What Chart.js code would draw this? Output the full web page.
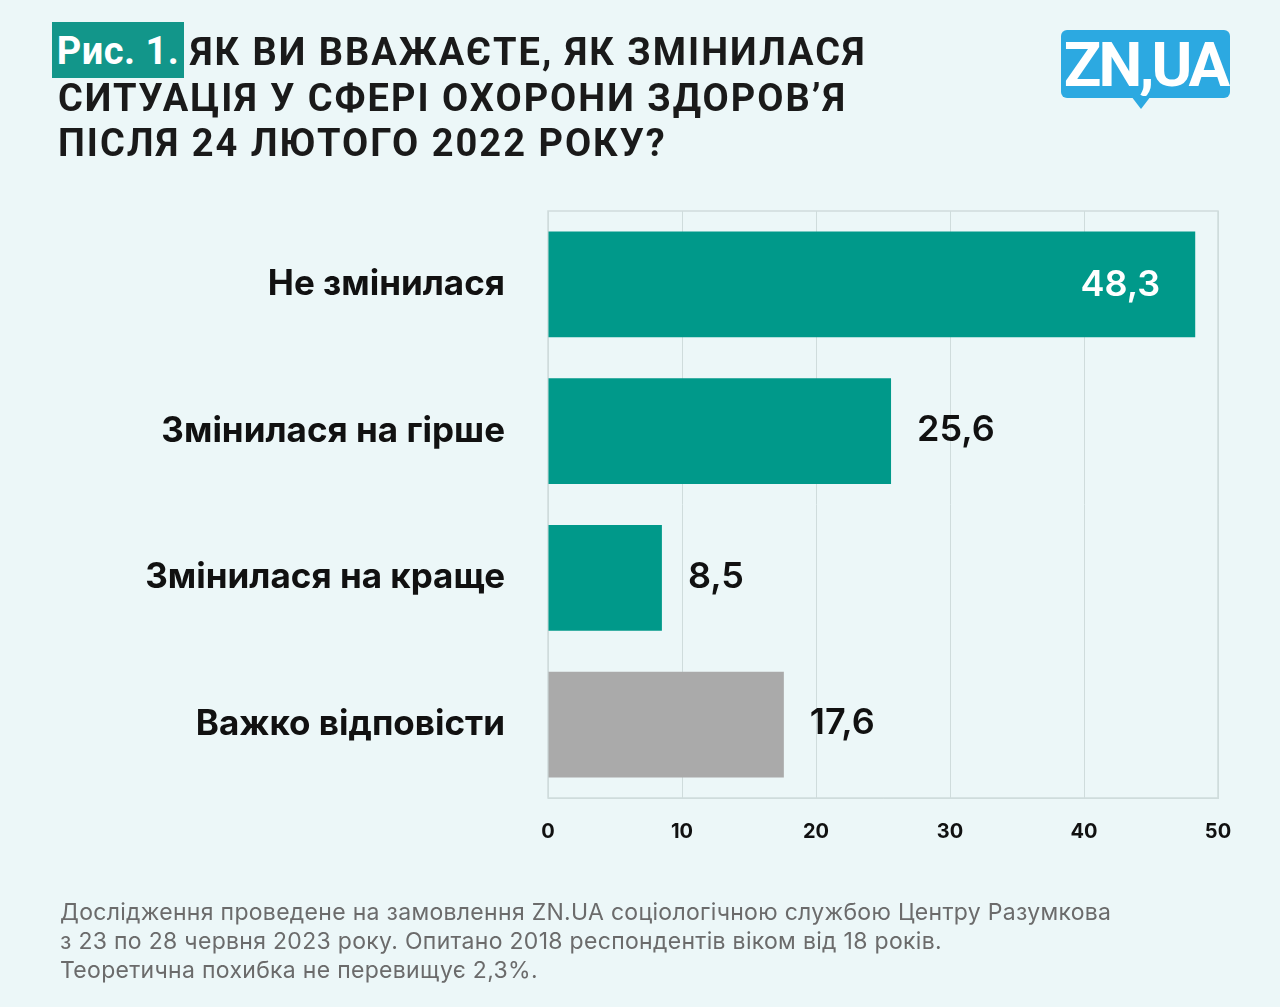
<!DOCTYPE html>
<html lang="uk">
<head>
<meta charset="utf-8">
<title>Рис. 1</title>
<script src="https://cdn.jsdelivr.net/npm/chart.js@4.4.1/dist/chart.umd.min.js"></script>
<style>
  html, body { margin: 0; padding: 0; }
  body { width: 1280px; height: 1007px; background: #ecf7f8; position: relative; overflow: hidden; }
  #chartWrap { position: absolute; left: 0; top: 0; width: 1280px; height: 1007px; }
  .t { position: absolute; font-family: Roboto, sans-serif; font-weight: 700; font-size: 38px; line-height: 46px;
    color: #1a1a1a; letter-spacing: 2px; white-space: nowrap; }
  .fig { position: absolute; left: 52px; top: 22px; width: 132px; height: 56px; background: #12968a; color: #fff;
    font-family: Roboto, sans-serif; font-weight: 700; font-size: 38px; line-height: 58px; text-align: center;
    letter-spacing: 0.5px; white-space: nowrap; }
  .logo { position: absolute; left: 1061px; top: 30px; width: 169px; height: 68px; background: #2ca9e1;
    border-radius: 6px; color: #fff; font-family: Roboto, sans-serif; font-weight: 700; font-size: 62px;
    line-height: 70px; text-align: center; letter-spacing: -3px; }
  .logo:after { content: ""; position: absolute; left: 70px; top: 66px; border-left: 10px solid transparent;
    border-right: 10px solid transparent; border-top: 13px solid #2ca9e1; }
  .footer { position: absolute; left: 60px; top: 898px; font-family: Inter, sans-serif; font-size: 23px;
    letter-spacing: 0.3px; line-height: 29px; color: #6b6b6b; white-space: nowrap; }
</style>
</head>
<body>
<div id="chartWrap"><canvas id="grafico"></canvas></div>
<div class="fig">Рис. 1.</div>
<div class="t" style="left:190px; top:29px;">ЯК ВИ ВВАЖАЄТЕ, ЯК ЗМІНИЛАСЯ</div>
<div class="t" style="left:58px; top:75px;">СИТУАЦІЯ У СФЕРІ ОХОРОНИ ЗДОРОВ’Я</div>
<div class="t" style="left:58px; top:120px;">ПІСЛЯ 24 ЛЮТОГО 2022 РОКУ?</div>
<div class="logo">ZN,UA</div>
<div class="footer">Дослідження проведене на замовлення ZN.UA соціологічною службою Центру Разумкова<br>з 23 по 28 червня 2023 року. Опитано 2018 респондентів віком від 18 років.<br>Теоретична похибка не перевищує 2,3%.</div>

<script>
const categorias = ["Не змінилася", "Змінилася на гірше", "Змінилася на краще", "Важко відповісти"];
const valores = [48.3, 25.6, 8.5, 17.6];
const cores = ["#00998a", "#00998a", "#00998a", "#aaaaaa"];
const ticksX = [0, 10, 20, 30, 40, 50];

// moldura completa da área do gráfico
const moldura = {
  id: "moldura",
  beforeDatasetsDraw(chart) {
    const { ctx, chartArea: a } = chart;
    ctx.save();
    ctx.strokeStyle = "#cfdcdc";
    ctx.lineWidth = 1.5;
    ctx.strokeRect(a.left, a.top, a.right - a.left, a.bottom - a.top);
    ctx.restore();
  },
};

// rótulos de valor (dentro da barra maior, fora nas demais)
const rotulos = {
  id: "rotulos",
  afterDatasetsDraw(chart) {
    const { ctx } = chart;
    const meta = chart.getDatasetMeta(0);
    ctx.save();
    ctx.font = "600 36px Inter, sans-serif";
    ctx.textBaseline = "middle";
    meta.data.forEach((bar, i) => {
      const txt = valores[i].toFixed(1).replace(".", ",");
      if (valores[i] > 40) {
        ctx.fillStyle = "#ffffff";
        ctx.textAlign = "right";
        ctx.fillText(txt, bar.x - 35, bar.y + 1);
      } else {
        ctx.fillStyle = "#111111";
        ctx.textAlign = "left";
        ctx.fillText(txt, bar.x + 26, bar.y - 1);
      }
    });
    ctx.restore();
  },
};

new Chart(document.getElementById("grafico"), {
  type: "bar",
  data: {
    labels: categorias,
    datasets: [{
      data: valores,
      backgroundColor: cores,
      barPercentage: 0.72,
      categoryPercentage: 1,
    }],
  },
  options: {
    indexAxis: "y",
    responsive: true,
    maintainAspectRatio: false,
    animation: false,
    layout: { padding: { top: 211, right: 62, left: 0, bottom: 0 } },
    plugins: { legend: { display: false }, tooltip: { enabled: false } },
    scales: {
      x: {
        min: 0, max: 50,
        afterBuildTicks: (s) => { s.ticks = ticksX.map((v) => ({ value: v })); },
        afterFit: (s) => { s.height = 209; },
        grid: { color: "#cfdcdc", lineWidth: 1, tickLength: 0 },
        border: { color: "#cfdcdc" },
        ticks: { padding: 22, color: "#111", font: { family: "Inter", weight: "700", size: 20 } },
      },
      y: {
        afterFit: (s) => { s.width = 548; },
        grid: { display: false, tickLength: 0 },
        border: { color: "#cfdcdc" },
        ticks: { padding: 43, color: "#111", font: { family: "Inter", weight: "700", size: 35 } },
      },
    },
  },
  plugins: [moldura, rotulos],
});
</script>
</body>
</html>
